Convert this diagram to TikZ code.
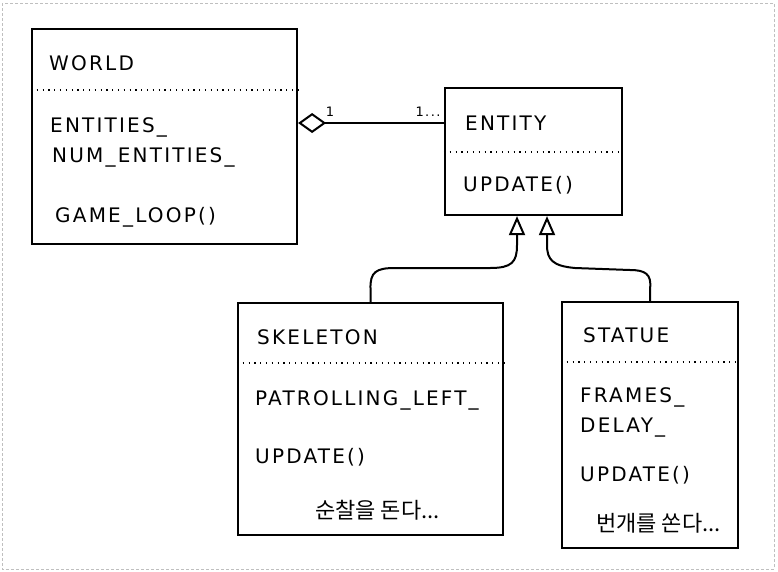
\documentclass[tikz,border=0pt]{standalone}
\usepackage{fontspec}
\newfontfamily\hand[LetterSpace=11]{DejaVu Sans}
\newfontfamily\kor{Noto Sans CJK KR}
\usetikzlibrary{arrows.meta,calc}
\begin{document}
\begin{tikzpicture}[x=1pt,y=-1pt,
		classbox/.style={draw,line width=2.2pt,inner sep=0pt},
		sepline/.style={line width=1.5pt,dash pattern=on 1.2pt off 4.6pt},
		txt/.style={anchor=west,inner sep=0pt,font=\hand\fontsize{20}{24}\selectfont},
		kortxt/.style={anchor=west,inner sep=0pt,font=\kor\fontsize{22}{26}\selectfont},
		mult/.style={inner sep=0pt,font=\hand\fontsize{13}{15}\selectfont},
		agg/.style={line width=2pt,{Diamond[open,length=28pt,width=20pt,line width=2pt]}-},
		inh/.style={line width=2pt,-{Triangle[open,length=19pt,width=16pt,line width=2pt]}}]
		\useasboundingbox (0,0) rectangle (778,571);
		\draw[gray!50,densely dashed,line width=0.6pt] (2,3) rectangle (774,569);
		% classes
		\node[classbox,minimum width=265pt,minimum height=215pt] (world) at (164.5,136.5) {};
		\node[classbox,minimum width=177pt,minimum height=127pt] (entity) at (533.5,151.5) {};
		\node[classbox,minimum width=265pt,minimum height=232pt] (skeleton) at (370.5,419) {};
		\node[classbox,minimum width=176pt,minimum height=246pt] (statue) at (650,425) {};
		\draw[sepline] (world.west |- 0,90) -- (world.east |- 0,90);
		\draw[sepline] (entity.west |- 0,152) -- (entity.east |- 0,152);
		\draw[sepline] (skeleton.west |- 0,363) -- (skeleton.east |- 0,363);
		\draw[sepline] (statue.west |- 0,362) -- (statue.east |- 0,362);
		% texts
		\node[txt] (worldname) at (49,63) {WORLD};
		\node[txt] (entities) at (50,127) {ENTITIES\_};
		\node[txt] (numentities) at (52,157) {NUM\_ENTITIES\_};
		\node[txt] (gameloop) at (55,217) {GAME\_LOOP()};
		\node[txt] (entityname) at (465,123) {ENTITY};
		\node[txt] (entityupdate) at (463,185) {UPDATE()};
		\node[txt] (skeletonname) at (257,337) {SKELETON};
		\node[txt] (patrolling) at (255,400) {PATROLLING\_LEFT\_};
		\node[txt] (skeletonupdate) at (255,457) {UPDATE()};
		\node[kortxt] (patrol) at (315,510) {순찰을 돈다...};
		\node[txt] (statuename) at (583,335) {STATUE};
		\node[txt] (frames) at (580,397) {FRAMES\_};
		\node[txt] (delay) at (580,428) {DELAY\_};
		\node[txt] (statueupdate) at (580,475) {UPDATE()};
		\node[kortxt] (lightning) at (596,523) {번개를 쏜다...};
		% aggregation
		\coordinate (link) at ($(entity.west)+(0,-28.5)$);
		\draw[agg] (world.east |- link) -- (link);
		\node[mult] (one) at (330,112) {1};
		\node[mult] (many) at (428,112) {1...};
		% inheritance
		\coordinate (skeletontip) at ($(entity.south)+(-16.5,0)$);
		\coordinate (statuetip) at ($(entity.south)+(13.5,0)$);
		\draw[inh] (skeleton.north) -- ++(0,-13) .. controls (370,272) and (376,268) .. (395,268)
			-- (490,268) .. controls (512,268) and (517,262) .. (517,245) -- (skeletontip);
		\draw[inh] (statue.north) -- ++(0,-12) .. controls (652,274) and (645,270) .. (630,270)
			-- (575,268) .. controls (553,266) and (547,260) .. (547,245) -- (statuetip);
	\end{tikzpicture}
\end{document}
